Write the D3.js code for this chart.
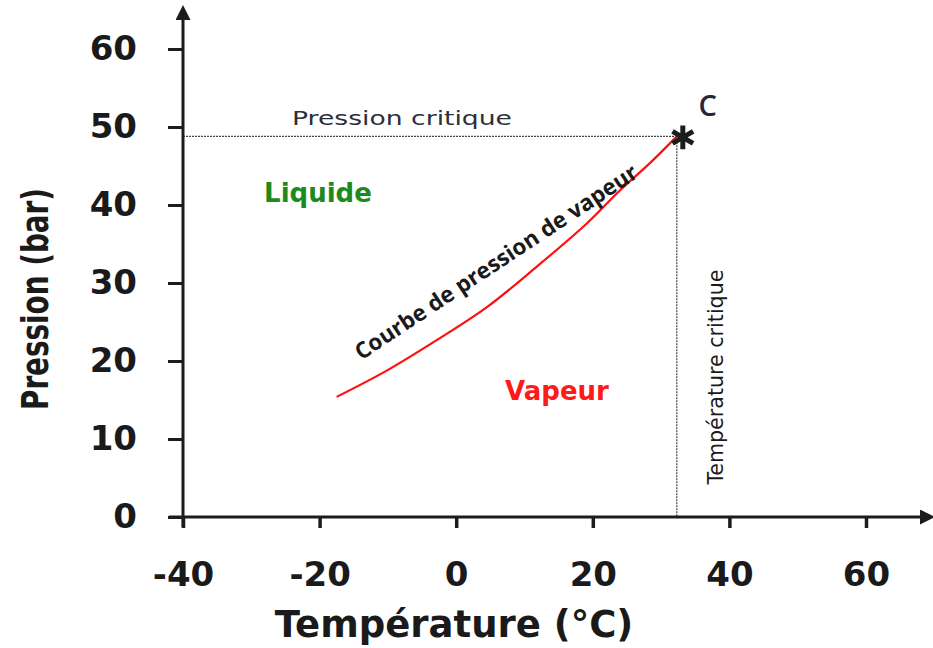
<!DOCTYPE html>
<meta charset="utf-8">
<style>
    body {
        margin: 0;
        background: #fff;
    }

    .tick text {
        font-family: "DejaVu Sans";
        font-weight: bold;
        font-size: 34px;
        fill: #1a1a1a;
    }
</style>
<svg width="933" height="648"></svg>
<script src="https://d3js.org/d3.v7.min.js"></script>
<script>
    // courbe de pression de vapeur
    var temps = [-17.5, -10.1, -2.8, 4.5, 11.8, 19.2, 24.0, 28.4, 32.3];
    var pressions = [15.4, 18.8, 22.7, 26.9, 32.1, 37.7, 41.9, 45.4, 48.8];
    var xTicks = [-40, -20, 0, 20, 40, 60];
    var yTicks = [0, 10, 20, 30, 40, 50, 60];
    var pointCritique = {t: 32.3, p: 48.8};

    var svg = d3.select("svg"),
        width = +svg.attr("width"),
        height = +svg.attr("height");

    var x = d3.scaleLinear().domain([-40, 60]).range([183, 866]);
    var y = d3.scaleLinear().domain([0, 60]).range([517, 49]);

    var ink = "#1c1c1c";
    var fmt = function (d) { return String(d); }; // tiret simple, pas de signe moins unicode

    // lignes pointillées critiques
    svg.append("line")
        .attr("x1", x(-40)).attr("x2", x(pointCritique.t))
        .attr("y1", y(pointCritique.p)).attr("y2", y(pointCritique.p))
        .style("stroke", "#444").style("stroke-width", 1.2)
        .style("stroke-dasharray", "2,1");

    svg.append("line")
        .attr("x1", x(pointCritique.t)).attr("x2", x(pointCritique.t))
        .attr("y1", y(pointCritique.p)).attr("y2", y(0))
        .style("stroke", "#444").style("stroke-width", 1.2)
        .style("stroke-dasharray", "2,1");

    // axes
    var xAxis = svg.append("g")
        .attr("transform", "translate(0," + y(0) + ")")
        .call(d3.axisBottom(x).tickValues(xTicks).tickFormat(fmt)
            .tickSize(11).tickPadding(34).tickSizeOuter(0));
    xAxis.select(".domain").remove();
    xAxis.selectAll(".tick line").style("stroke", ink).style("stroke-width", 3.5);

    var yAxis = svg.append("g")
        .attr("transform", "translate(" + x(-40) + ",0)")
        .call(d3.axisLeft(y).tickValues(yTicks).tickFormat(fmt)
            .tickSize(15).tickPadding(31).tickSizeOuter(0));
    yAxis.select(".domain").remove();
    yAxis.selectAll(".tick line").style("stroke", ink).style("stroke-width", 3);

    // lignes d'axes avec flèches
    var defs = svg.append("defs");
    defs.append("marker")
        .attr("id", "fleche")
        .attr("viewBox", "0 0 10 10")
        .attr("refX", 2).attr("refY", 5)
        .attr("markerWidth", 5).attr("markerHeight", 5)
        .attr("markerUnits", "strokeWidth")
        .attr("orient", "auto")
        .append("path")
        .attr("d", "M0,0 L10,5 L0,10 z")
        .style("fill", ink);

    svg.append("line")
        .attr("x1", x(-40)).attr("x2", x(-40))
        .attr("y1", y(0) + 10).attr("y2", 17)
        .style("stroke", ink).style("stroke-width", 3)
        .attr("marker-end", "url(#fleche)");

    svg.append("line")
        .attr("x1", x(-40) - 14).attr("x2", 923)
        .attr("y1", y(0)).attr("y2", y(0))
        .style("stroke", ink).style("stroke-width", 3)
        .attr("marker-end", "url(#fleche)");

    // courbe
    var courbe = d3.line()
        .x(function (d, i) { return x(temps[i]); })
        .y(function (d, i) { return y(pressions[i]); })
        .curve(d3.curveCatmullRom);

    svg.append("path")
        .datum(temps)
        .attr("d", courbe)
        .style("fill", "none")
        .style("stroke", "#ff1010")
        .style("stroke-width", 2.2);

    // point critique
    svg.append("path")
        .attr("d", d3.symbol(d3.symbolAsterisk, 400)())
        .attr("transform", "translate(" + (x(pointCritique.t) + 6) + "," + (y(pointCritique.p) + 1) + ")")
        .style("fill", "none")
        .style("stroke", ink)
        .style("stroke-width", 5);

    svg.append("text")
        .attr("x", x(pointCritique.t) + 31).attr("y", y(pointCritique.p) - 20)
        .attr("text-anchor", "middle")
        .style("font-family", "Open Sans").style("font-weight", 600)
        .style("font-size", "29px").style("fill", "#1e2a3a")
        .text("C");

    // étiquettes
    svg.append("text")
        .attr("x", 292).attr("y", 125)
        .attr("textLength", 220).attr("lengthAdjust", "spacingAndGlyphs")
        .style("font-family", "DejaVu Sans").style("font-size", "20px")
        .style("fill", "#2b2f3a")
        .text("Pression critique");

    svg.append("text")
        .attr("x", 318).attr("y", 202)
        .attr("text-anchor", "middle")
        .style("font-family", "DejaVu Sans").style("font-weight", "bold")
        .style("font-size", "26px").style("fill", "#1d8a1d")
        .text("Liquide");

    svg.append("text")
        .attr("x", 557).attr("y", 400)
        .attr("text-anchor", "middle")
        .style("font-family", "DejaVu Sans").style("font-weight", "bold")
        .style("font-size", "26px").style("fill", "#ff1a1a")
        .text("Vapeur");

    svg.append("text")
        .attr("transform", "translate(496,262) rotate(-33.5)")
        .attr("text-anchor", "middle")
        .attr("dy", "0.35em")
        .style("font-family", "Open Sans").style("font-weight", "bold")
        .style("font-size", "22.5px").style("fill", "#1a1a1a")
        .text("Courbe de pression de vapeur");

    svg.append("text")
        .attr("transform", "translate(716,377) rotate(-90)")
        .attr("text-anchor", "middle")
        .attr("dy", "0.35em")
        .attr("textLength", 215).attr("lengthAdjust", "spacingAndGlyphs")
        .style("font-family", "DejaVu Sans Condensed").style("font-size", "21px")
        .style("fill", "#1a1a1a")
        .text("Température critique");

    // titres d'axes
    svg.append("text")
        .attr("x", 454).attr("y", 637)
        .attr("text-anchor", "middle")
        .style("font-family", "DejaVu Sans").style("font-weight", "bold")
        .style("font-size", "37px").style("fill", "#1a1a1a")
        .text("Température (°C)");

    svg.append("text")
        .attr("transform", "translate(35,299) rotate(-90)")
        .attr("text-anchor", "middle")
        .attr("dy", "0.35em")
        .attr("textLength", 222).attr("lengthAdjust", "spacingAndGlyphs")
        .style("font-family", "DejaVu Sans Condensed").style("font-weight", "bold")
        .style("font-size", "38px").style("fill", "#1a1a1a")
        .text("Pression (bar)");
</script>
